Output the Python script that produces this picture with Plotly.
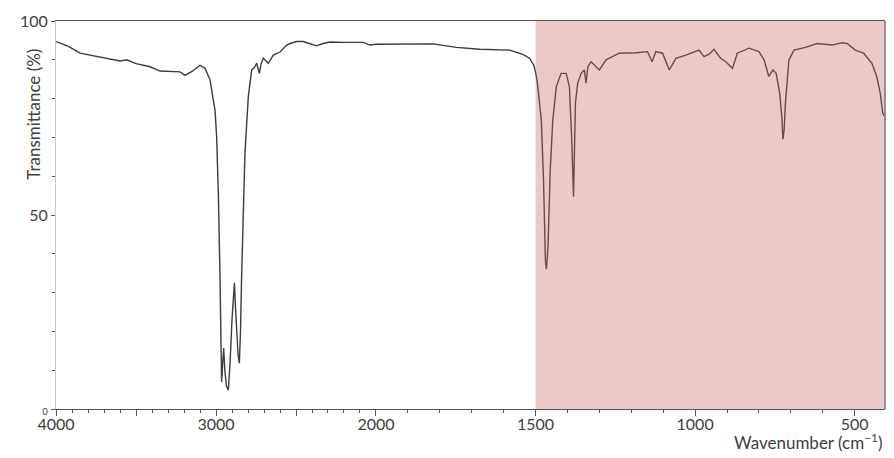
import plotly.graph_objects as go

# IR spectrum (wavenumber in cm-1, transmittance in %)
wavenumber = [
    4000, 3925, 3850, 3725, 3600, 3558, 3500, 3412, 3350, 3225, 3194, 3150,
    3100, 3069, 3037, 3017, 3006, 2996, 2985, 2975, 2968, 2965, 2958, 2952,
    2945, 2935, 2923, 2912, 2900, 2885, 2878, 2870, 2862, 2854, 2847, 2840,
    2830, 2819, 2798, 2777, 2760, 2746, 2729, 2718, 2704, 2673, 2642, 2600,
    2558, 2537, 2496, 2454, 2433, 2371, 2330, 2287, 2200, 2079, 2037, 2000,
    1883, 1821, 1748, 1675, 1581, 1540, 1519, 1505, 1498, 1493, 1482, 1475,
    1469, 1466, 1461, 1454, 1446, 1435, 1420, 1404, 1394, 1387, 1381, 1377,
    1375, 1368, 1357, 1347, 1342, 1336, 1326, 1300, 1279, 1238, 1185, 1149,
    1135, 1123, 1102, 1081, 1060, 1029, 988, 972, 955, 941, 920, 904,
    883, 868, 831, 800, 784, 769, 756, 746, 735, 728, 725, 721,
    717, 706, 690, 654, 618, 571, 540, 524, 498, 472, 446, 431,
    420, 412, 406,
]
transmittance = [
    94.7, 93.5, 91.7, 90.8, 89.7, 90.0, 89.0, 88.2, 87.1, 86.9, 86.0, 87.0,
    88.6, 87.8, 84.8, 79.6, 77.0, 70.2, 55.0, 34.0, 15.0, 7.0, 12.0, 15.7,
    10.0, 6.0, 4.9, 12.0, 23.0, 32.5, 26.0, 19.6, 14.0, 11.8, 20.0, 34.0,
    50.0, 66.0, 80.5, 87.4, 88.0, 89.1, 86.5, 89.0, 90.4, 89.1, 91.2, 92.0,
    93.8, 94.2, 94.7, 94.7, 94.4, 93.6, 94.2, 94.6, 94.5, 94.5, 93.8, 94.0,
    94.1, 94.1, 93.2, 92.7, 92.5, 91.4, 90.4, 88.5, 86.0, 83.1, 74.5, 59.0,
    38.0, 36.0, 41.8, 61.6, 74.5, 83.1, 86.5, 86.5, 83.1, 70.2, 54.7, 70.0,
    78.9, 84.0, 86.5, 87.4, 84.0, 88.2, 89.5, 87.4, 90.0, 91.7, 91.8, 92.1,
    89.5, 92.1, 91.7, 87.4, 90.4, 91.2, 92.5, 90.8, 91.5, 92.7, 90.4, 89.5,
    87.8, 91.7, 93.0, 92.1, 90.0, 85.7, 87.4, 86.5, 81.4, 75.0, 69.5, 72.0,
    78.9, 90.0, 92.5, 93.2, 94.2, 93.8, 94.4, 94.2, 92.5, 91.7, 89.1, 85.7,
    81.4, 76.2, 75.5,
]

# axis scale doubles below 2000 cm-1, so the spectrum is split over two x axes
BREAK = 2000
hi = [(w, t) for w, t in zip(wavenumber, transmittance) if w >= BREAK]
lo = [(w, t) for w, t in zip(wavenumber, transmittance) if w <= BREAK]

LINE = "#3c3c3c"
TXT = "#404040"
FONT = "Lato, 'Open Sans', sans-serif"

fig = go.Figure()
fig.add_trace(go.Scatter(x=[p[0] for p in hi], y=[p[1] for p in hi], mode="lines",
                         line=dict(color=LINE, width=1.4), xaxis="x", yaxis="y"))
fig.add_trace(go.Scatter(x=[p[0] for p in lo], y=[p[1] for p in lo], mode="lines",
                         line=dict(color=LINE, width=1.4), xaxis="x2", yaxis="y"))

split = 0.386
common_x = dict(
    showline=True, linecolor="#555555", linewidth=1.2, mirror=True,
    ticks="outside", ticklen=6, tickcolor="#555555", showgrid=False,
    zeroline=False, tickfont=dict(family=FONT, size=16, color=TXT),
    ticklabelstandoff=-5, automargin=False,
    minor=dict(tickmode="linear", tick0=0, dtick=100, ticks="outside",
               ticklen=3, tickcolor="#555555"),
)
fig.update_layout(
    width=894, height=458, autosize=False,
    margin=dict(l=56, r=9, t=21, b=49),
    paper_bgcolor="white", plot_bgcolor="white",
    showlegend=False,
    xaxis=dict(domain=[0, split], range=[4000, BREAK], anchor="y",
               tickmode="array", tickvals=[4000, 3500, 3000, 2500, 2000],
               ticktext=["4000", "", "3000", "", "2000"], **common_x),
    xaxis2=dict(domain=[split, 1], range=[BREAK, 405], anchor="y",
                tickmode="array", tickvals=[2000, 1500, 1000, 500],
                ticktext=["", "1500", "1000", "500"], **common_x),
    yaxis=dict(range=[0, 100], showline=True, linecolor="#cfc3cf", linewidth=1,
               ticks="outside", ticklen=4, tickcolor="#555555", showgrid=False,
               zeroline=False, tickmode="array", tickvals=[0, 50, 100],
               ticktext=["<span style='font-size:9px'>0</span>", "50", "100"],
               tickfont=dict(family=FONT, size=16, color=TXT), automargin=False,
               minor=dict(tickmode="linear", tick0=0, dtick=10, ticks="outside",
                          ticklen=3, tickcolor="#555555")),
)

# pink highlight over the fingerprint region
fig.add_shape(type="rect", xref="x2", yref="paper", x0=1500, x1=405, y0=0, y1=1,
              fillcolor="#c86464", opacity=0.35, line=dict(width=0), layer="above")
fig.add_shape(type="line", xref="paper", yref="paper", x0=1, x1=1, y0=0, y1=1,
              line=dict(color="#777777", width=1.5))

fig.add_annotation(text="Wavenumber (cm<sup>−1</sup>)", xref="paper", yref="paper",
                   x=1.0, y=-0.085, xanchor="right", yanchor="middle", showarrow=False,
                   font=dict(family=FONT, size=17, color=TXT))
fig.add_annotation(text="Transmittance (%)", xref="paper", yref="paper",
                   x=-0.027, y=0.76, xanchor="center", yanchor="middle", textangle=-90,
                   showarrow=False, font=dict(family=FONT, size=17, color=TXT))

# no page margin / scrollbars, so the figure keeps its full 894 px width
fig.write_html(
    "out.html",
    config={"displayModeBar": False, "responsive": False},
    post_script="document.documentElement.style.overflow='hidden';"
                "document.body.style.margin='0';document.body.style.overflow='hidden';",
)
